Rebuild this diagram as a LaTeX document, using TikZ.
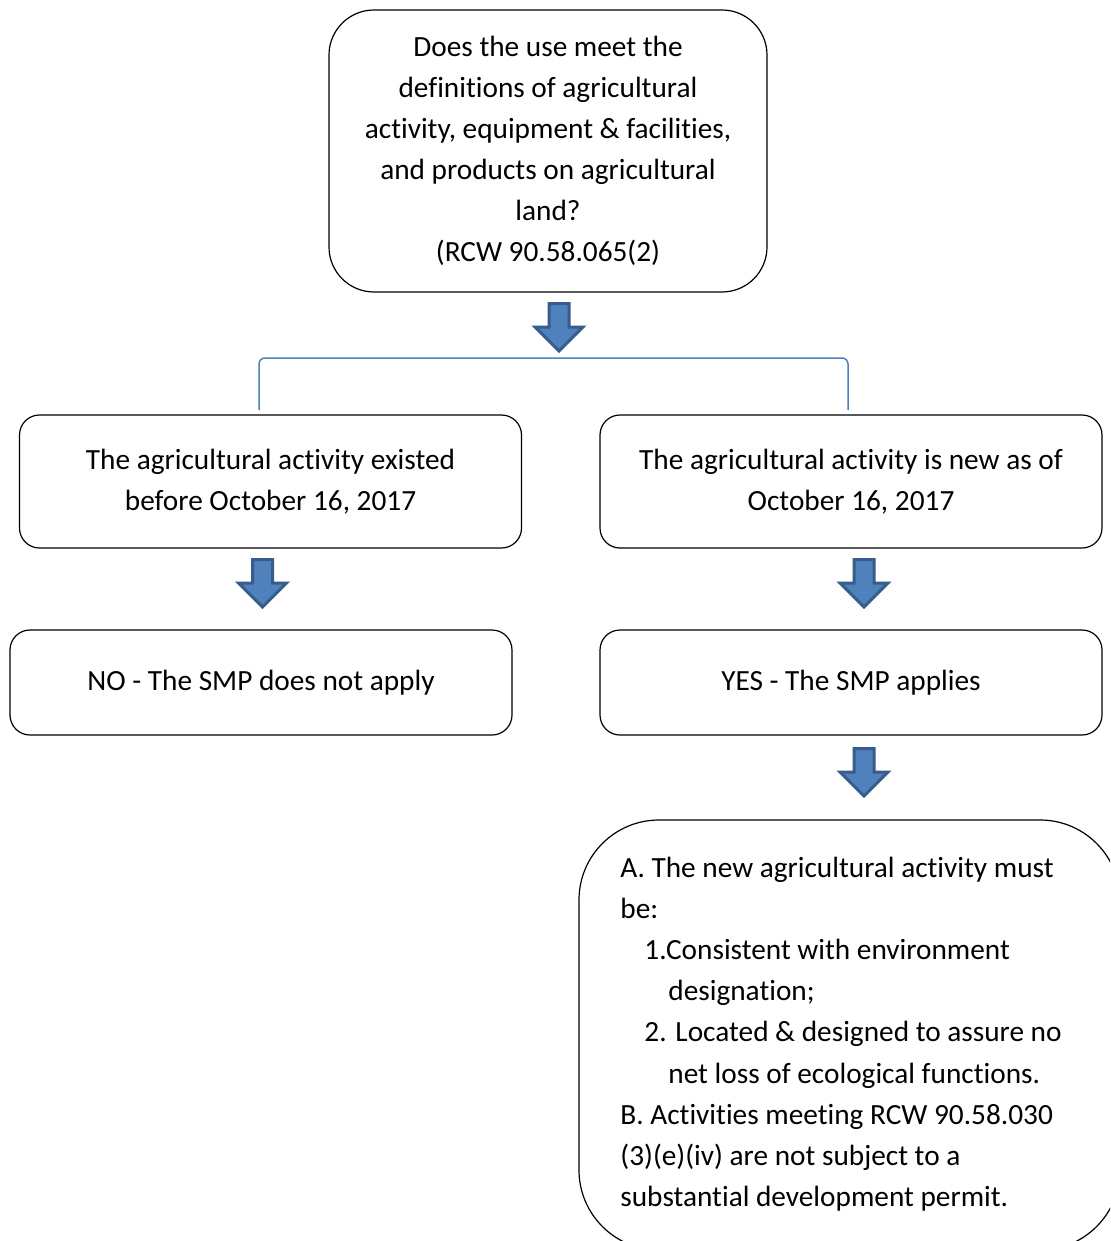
\documentclass[tikz,border=0pt]{standalone}
\usepackage{fontspec}
\setmainfont{Carlito}[RawFeature={-liga;-clig;-calt;-dlig}]
\definecolor{arrowfill}{HTML}{4F81BD}
\definecolor{arrowline}{HTML}{385D8A}
\definecolor{bracketblue}{HTML}{4F81BD}
\tikzset{
  box/.style={draw=black, line width=0.6pt, fill=white, inner sep=0pt,
    font=\fontsize{14.65}{20.5}\selectfont, align=center},
  smallbox/.style={box, rounded corners=10pt, minimum width=251pt, minimum height=66.5pt},
  flatbox/.style={box, rounded corners=10pt, minimum width=251pt, minimum height=52.5pt},
  txt/.style={inner sep=0pt, font=\fontsize{14.65}{20.6}\selectfont},
  arrowstyle/.style={fill=arrowfill, draw=arrowline, line width=1.5pt, line join=miter},
  bracket/.style={draw=bracketblue, line width=0.75pt, rounded corners=3pt},
  blockarrow/.pic={
    \path[arrowstyle] (-10,-23.5) -- (10,-23.5) -- (10,0) -- (24,0) -- (0,24) -- (-24,0) -- (-10,0) -- cycle;
  }
}
\begin{document}
\begin{tikzpicture}[x=0.5pt, y=-0.5pt]
\useasboundingbox (0,0) rectangle (1110,1241);
\clip (0,0) rectangle (1110,1241);
\fill[white] (0,0) rectangle (1110,1241);

% top question box
\node[box, rounded corners=22.5pt, minimum width=219pt, minimum height=141pt] (top) at (548,151)
  {Does the use meet the\\definitions of agricultural\\activity, equipment \& facilities,\\and products on agricultural\\land?\\(RCW 90.58.065(2)};

% arrow below the question
\pic at (559,327) {blockarrow};

% bracket
\coordinate (bl) at (259,410);
\coordinate (br) at (848,410);
\draw[bracket] (bl) -- (259,358) -- (848,358) -- (br);

% second row
\node[smallbox] (existed) at (270.5,481.5)
  {The agricultural activity existed\\before October 16, 2017};
\node[smallbox] (new) at (851,481.5)
  {The agricultural activity is new as of\\October 16, 2017};

\pic at (262.5,583) {blockarrow};
\pic at (864,583) {blockarrow};

% third row
\node[flatbox] (no) at (261,682.5) {NO - The SMP does not apply};
\node[flatbox] (yes) at (851,682.5) {YES - The SMP applies};

\pic at (864,772) {blockarrow};

% detail box (runs past the page edge)
\draw[line width=0.6pt, rounded corners=40pt, fill=white] (579,820) rectangle (1120,1250);
\node[txt, anchor=west, align=left] (detail) at (620,1034)
  {A. The new agricultural activity must\\
   be:\\
   \hspace*{12pt}1.Consistent with environment\\
   \hspace*{24pt}designation;\\
   \hspace*{12pt}2. Located \& designed to assure no\\
   \hspace*{24pt}net loss of ecological functions.\\
   B. Activities meeting RCW 90.58.030\\
   (3)(e)(iv) are not subject to a\\
   substantial development permit.};
\end{tikzpicture}
\end{document}
